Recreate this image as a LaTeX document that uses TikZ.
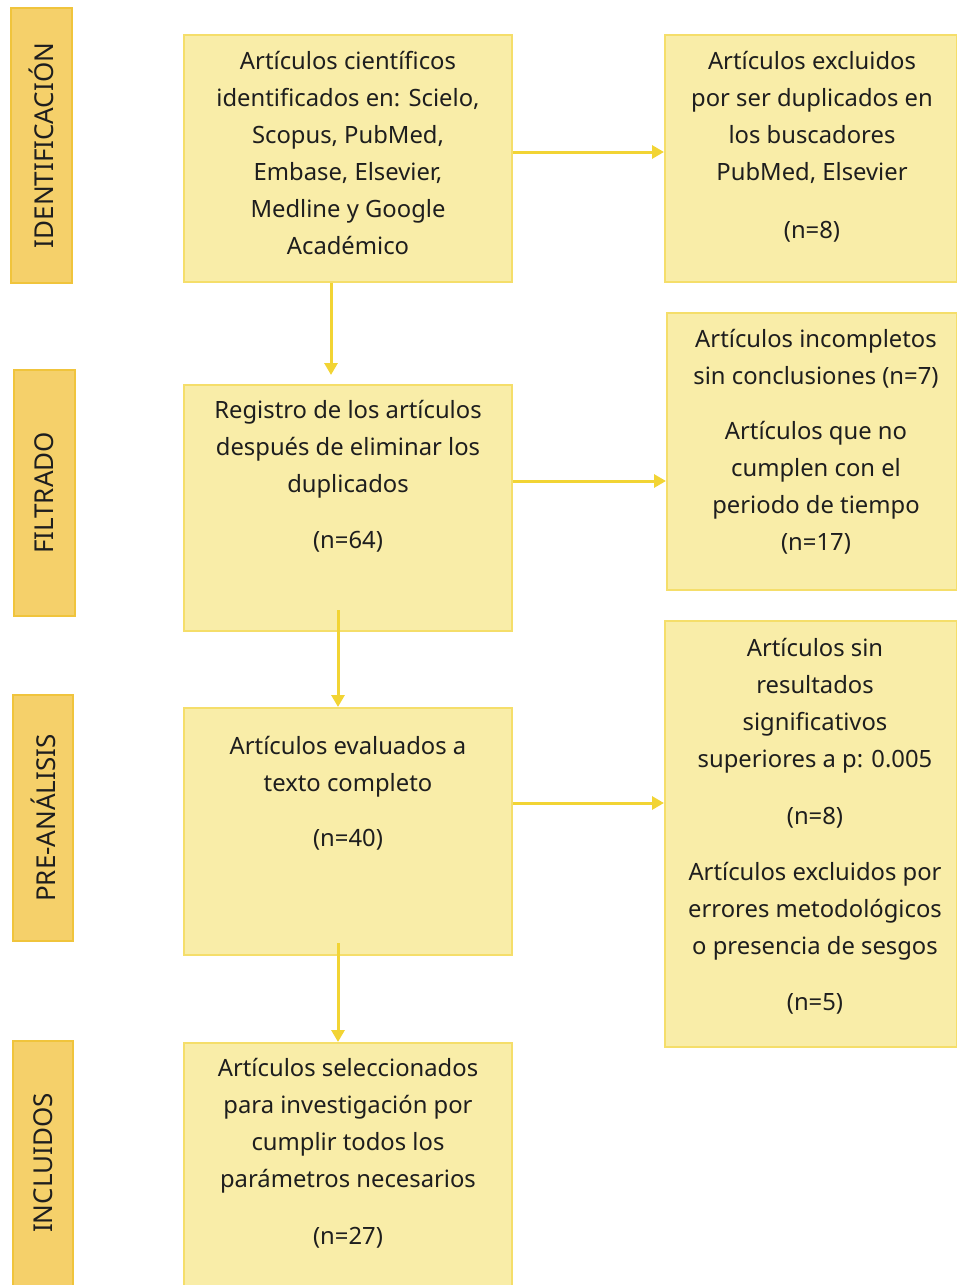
\documentclass[tikz,border=0pt]{standalone}
\usepackage{fontspec}
\setmainfont{Noto Sans}
\usetikzlibrary{arrows.meta}
\definecolor{boxfill}{HTML}{F9EDA8}
\definecolor{boxline}{HTML}{F5DE6A}
\definecolor{sidefill}{HTML}{F5D06A}
\definecolor{sideline}{HTML}{F0C43C}
\definecolor{arrowcol}{HTML}{F2D434}
\definecolor{textcol}{HTML}{1E1E1E}
\tikzset{
  mainbox/.style={draw=boxline, fill=boxfill, line width=2pt, inner sep=0pt},
  sidebox/.style={draw=sideline, fill=sidefill, line width=2pt, inner sep=0pt},
  boxtext/.style={anchor=north, align=center, inner sep=0pt, font=\fontsize{23.8}{37}\selectfont, text=textcol},
  sidetext/.style={rotate=90, inner sep=0pt, font=\fontsize{26}{28}\selectfont, text=textcol},
  flow/.style={draw=arrowcol, line width=3pt, -{Triangle[length=12pt,width=13pt]}},
}
\begin{document}
\begin{tikzpicture}[x=1pt,y=-1pt]
\useasboundingbox (0,0) rectangle (957,1285);
% side boxes
\path[sidebox] (11,8) rectangle (72,283);
\node[sidetext] (s1) at (41.5,145.5) {IDENTIFICACIÓN};
\path[sidebox] (14,370) rectangle (75,616);
\node[sidetext] (s2) at (44.5,493) {FILTRADO};
\path[sidebox] (13,695) rectangle (73,941);
\node[sidetext] (s3) at (43,818) {PRE-ANÁLISIS};
\path[sidebox] (13,1041) rectangle (73,1295);
\node[sidetext] (s4) at (43,1163) {INCLUIDOS};
% main boxes
\node[mainbox, minimum width=328pt, minimum height=247pt] (A) at (348,158.5) {};
\node[mainbox, minimum width=292pt, minimum height=247pt] (B) at (811,158.5) {};
\node[mainbox, minimum width=328pt, minimum height=246pt] (C) at (348,508) {};
\node[mainbox, minimum width=290pt, minimum height=277pt] (D) at (812,451.5) {};
\node[mainbox, minimum width=328pt, minimum height=247pt] (E) at (348,831.5) {};
\node[mainbox, minimum width=292pt, minimum height=426pt] (F) at (811,834) {};
\node[mainbox, minimum width=328pt, minimum height=252pt] (G) at (348,1169) {};
% texts
\node[boxtext] (At) at (348,51.5) {Artículos científicos\\identificados en: Scielo,\\Scopus, PubMed,\\Embase, Elsevier,\\Medline y Google\\Académico};
\node[boxtext] (Bt) at (812,51.5) {Artículos excluidos\\por ser duplicados en\\los buscadores\\PubMed, Elsevier\\[21pt](n=8)};
\node[boxtext] (Ct) at (348,400.5) {Registro de los artículos\\después de eliminar los\\duplicados\\[19pt](n=64)};
\node[boxtext] (Dt) at (816,329.5) {Artículos incompletos\\sin conclusiones (n=7)\\[18pt]Artículos que no\\cumplen con el\\periodo de tiempo\\(n=17)};
\node[boxtext] (Et) at (348,736.5) {Artículos evaluados a\\texto completo\\[18pt](n=40)};
\node[boxtext] (Ft) at (815,638.5) {Artículos sin\\resultados\\significativos\\superiores a p: 0.005\\[20pt](n=8)\\[19pt]Artículos excluidos por\\errores metodológicos\\o presencia de sesgos\\[19pt](n=5)};
\node[boxtext] (Gt) at (348,1058.5) {Artículos seleccionados\\para investigación por\\cumplir todos los\\parámetros necesarios\\[20pt](n=27)};
% connectors
\draw[flow] ([yshift=6.5pt]A.east) -- ([yshift=6.5pt]A.east -| B.west);
\draw[flow] ([yshift=27pt]C.east) -- ([yshift=27pt]C.east -| D.west);
\draw[flow] ([yshift=28.5pt]E.east) -- ([yshift=28.5pt]E.east -| F.west);
\draw[flow, shorten >=9pt] ([xshift=-17pt]A.south) -- ([xshift=-17pt]C.north);
\draw[flow] ([xshift=-10pt,yshift=22pt]C.south) -- ([xshift=-10pt]E.north);
\draw[flow] ([xshift=-10pt,yshift=13pt]E.south) -- ([xshift=-10pt]G.north);
\end{tikzpicture}
\end{document}
